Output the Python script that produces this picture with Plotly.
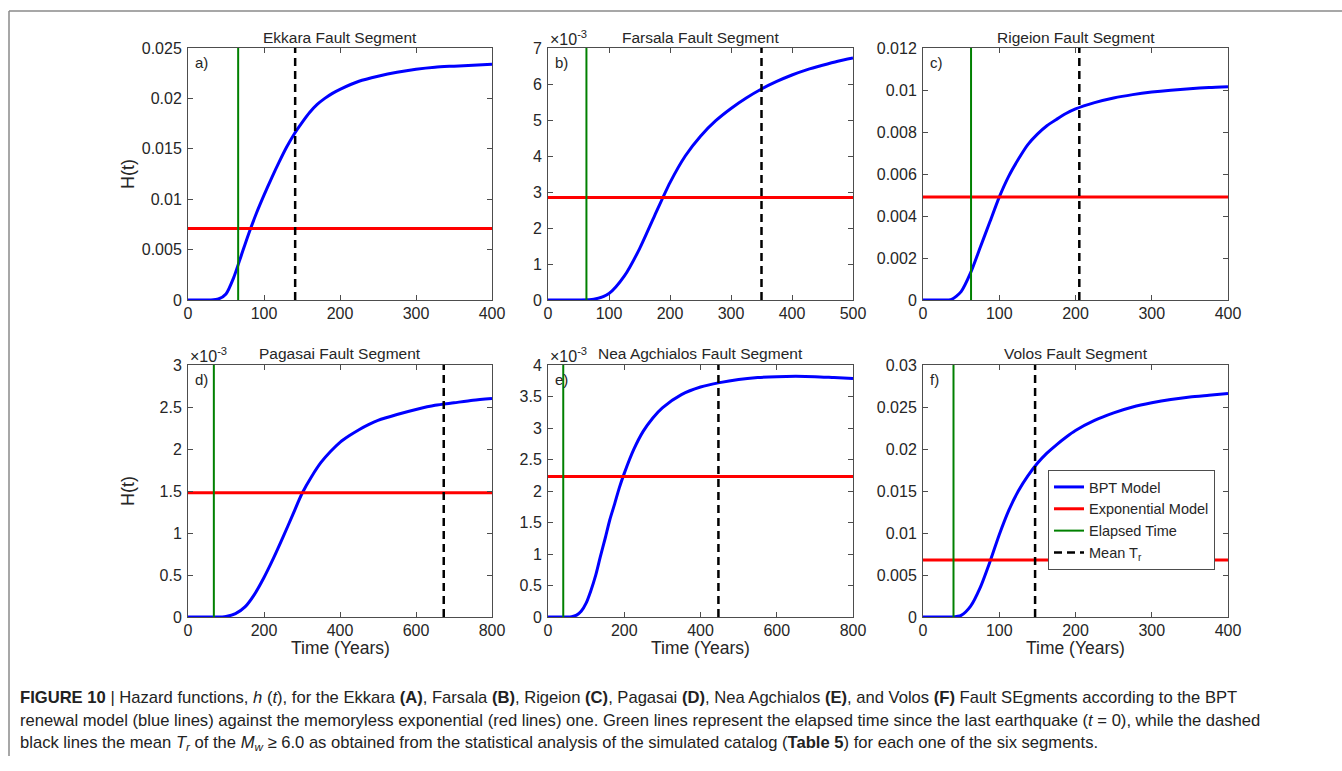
import plotly.graph_objects as go

W, H = 1342, 771

# ---------------- data ----------------
titles = ["Ekkara Fault Segment", "Farsala Fault Segment", "Rigeion Fault Segment",
          "Pagasai Fault Segment", "Nea Agchialos Fault Segment", "Volos Fault Segment"]
letters = ["a)", "b)", "c)", "d)", "e)", "f)"]

t_a = [0, 20, 30, 40, 50, 60, 70, 80, 90, 100, 110, 120, 130, 140, 150, 160, 170, 180, 190, 200, 225, 250, 275, 300, 325, 350, 375, 400]
h_a = [0, 0, 0, 0.0001, 0.0006, 0.0022, 0.0044, 0.0066, 0.0086, 0.0104, 0.0121, 0.0137, 0.0152, 0.0165, 0.0176, 0.0186, 0.0194, 0.0200, 0.0205, 0.0209, 0.0217, 0.0222, 0.0226, 0.0229, 0.0231, 0.0232, 0.0233, 0.0234]

t_b = [0, 25, 50, 75, 100, 125, 150, 175, 200, 225, 250, 275, 300, 325, 350, 375, 400, 425, 450, 475, 500]
h_b = [0, 0, 0, 0.00002, 0.00018, 0.00066, 0.00142, 0.00235, 0.00326, 0.00400, 0.00455, 0.00498, 0.00532, 0.00561, 0.00586, 0.00607, 0.00625, 0.00640, 0.00652, 0.00663, 0.00672]

t_c = [0, 12.5, 25, 37.5, 50, 62.5, 75, 87.5, 100, 112.5, 125, 137.5, 150, 162.5, 175, 187.5, 200, 225, 250, 275, 300, 325, 350, 375, 400]
h_c = [0, 0, 0, 0.00003, 0.0004, 0.0013, 0.0025, 0.0037, 0.0049, 0.0059, 0.0067, 0.0074, 0.0079, 0.0083, 0.0086, 0.00888, 0.0091, 0.0094, 0.00962, 0.00978, 0.0099, 0.00999, 0.01006, 0.01012, 0.01016]

t_d = [0, 50, 90, 100, 125, 150, 175, 200, 225, 250, 275, 300, 325, 350, 375, 400, 425, 450, 475, 500, 550, 600, 650, 700, 750, 800]
h_d = [0, 0, 0, 0.000005, 0.00004, 0.00012, 0.00027, 0.00047, 0.00070, 0.00095, 0.00121, 0.00147, 0.00167, 0.00184, 0.00197, 0.00208, 0.00216, 0.00223, 0.00229, 0.00234, 0.00241, 0.00247, 0.00252, 0.00255, 0.00258, 0.00260]

t_e = [0, 50, 62, 75, 87, 100, 112, 125, 137, 150, 162, 175, 187, 200, 225, 250, 275, 300, 350, 400, 450, 500, 550, 600, 650, 700, 750, 800]
h_e = [0, 0, 0.000005, 0.00003, 0.00009, 0.00022, 0.00041, 0.00066, 0.00095, 0.00125, 0.00154, 0.00180, 0.00205, 0.00228, 0.00266, 0.00295, 0.00316, 0.00332, 0.00353, 0.00365, 0.00372, 0.00377, 0.00380, 0.003815, 0.00382, 0.003815, 0.00380, 0.003785]

t_f = [0, 12.5, 25, 37.5, 50, 62.5, 75, 87.5, 100, 112.5, 125, 137.5, 150, 162.5, 175, 187.5, 200, 225, 250, 275, 300, 325, 350, 375, 400]
h_f = [0, 0, 0, 0, 0.0002, 0.0013, 0.0035, 0.0065, 0.0098, 0.0127, 0.0150, 0.0168, 0.0183, 0.0195, 0.0205, 0.0214, 0.0222, 0.0234, 0.0243, 0.0250, 0.0255, 0.0259, 0.0262, 0.0264, 0.0266]

times = [t_a, t_b, t_c, t_d, t_e, t_f]
hazards = [h_a, h_b, h_c, h_d, h_e, h_f]

exp_rate = [0.0071, 0.00285, 0.0049, 0.00148, 0.00223, 0.0068]   # exponential model
elapsed = [66, 63, 63, 68, 40, 40]                               # elapsed time
mean_tr = [141, 350, 205, 673, 447, 147]                         # mean recurrence

x_max = [400, 500, 400, 800, 800, 400]
x_step = [100, 100, 100, 200, 200, 100]
y_max = [0.025, 0.007, 0.012, 0.003, 0.004, 0.03]
y_ticks = [
    [0, 0.005, 0.01, 0.015, 0.02, 0.025],
    [0, 0.001, 0.002, 0.003, 0.004, 0.005, 0.006, 0.007],
    [0, 0.002, 0.004, 0.006, 0.008, 0.01, 0.012],
    [0, 0.0005, 0.001, 0.0015, 0.002, 0.0025, 0.003],
    [0, 0.0005, 0.001, 0.0015, 0.002, 0.0025, 0.003, 0.0035, 0.004],
    [0, 0.005, 0.01, 0.015, 0.02, 0.025, 0.03],
]
y_ticktext = [
    ["0", "0.005", "0.01", "0.015", "0.02", "0.025"],
    ["0", "1", "2", "3", "4", "5", "6", "7"],
    ["0", "0.002", "0.004", "0.006", "0.008", "0.01", "0.012"],
    ["0", "0.5", "1", "1.5", "2", "2.5", "3"],
    ["0", "0.5", "1", "1.5", "2", "2.5", "3", "3.5", "4"],
    ["0", "0.005", "0.01", "0.015", "0.02", "0.025", "0.03"],
]
has_exponent = [False, True, False, True, True, False]

# ---------------- layout geometry (pixels) ----------------
col_px = [(188, 492), (548, 853), (923, 1228)]
row_px = [(48, 300), (365, 617)]

def px_x(p):
    return p / W

def px_y(p):
    return 1 - p / H

FONT = "Liberation Sans, Arial, Helvetica, sans-serif"
AXC = "#4d4d4d"
TXC = "#262626"

fig = go.Figure()
annotations = []
layout_axes = {}

for i in range(6):
    r, c = divmod(i, 3)
    k = "" if i == 0 else str(i + 1)
    xa, ya = "x" + k, "y" + k
    x0, x1 = col_px[c]
    y0, y1 = row_px[r]
    legend_on = (i == 5)

    fig.add_trace(go.Scatter(x=times[i], y=hazards[i], mode="lines", name="BPT Model",
                             line=dict(color="#0000ff", width=3, shape="spline", smoothing=0.7),
                             xaxis=xa, yaxis=ya, showlegend=legend_on))
    fig.add_trace(go.Scatter(x=[0, x_max[i]], y=[exp_rate[i], exp_rate[i]], mode="lines",
                             name="Exponential Model", line=dict(color="#ff0000", width=3),
                             xaxis=xa, yaxis=ya, showlegend=legend_on))
    fig.add_trace(go.Scatter(x=[elapsed[i], elapsed[i]], y=[0, y_max[i]], mode="lines",
                             name="Elapsed Time", line=dict(color="#008000", width=2),
                             xaxis=xa, yaxis=ya, showlegend=legend_on))
    fig.add_trace(go.Scatter(x=[mean_tr[i], mean_tr[i]], y=[0, y_max[i]], mode="lines",
                             name="Mean T<sub>r</sub>", line=dict(color="#000000", width=2.5, dash="8px,5px"),
                             xaxis=xa, yaxis=ya, showlegend=legend_on))

    common = dict(showline=True, linecolor=AXC, linewidth=1, mirror="ticks", ticks="inside",
                  ticklen=5, tickcolor=AXC, showgrid=False, zeroline=False, automargin=False,
                  tickfont=dict(family=FONT, size=16, color=TXC))
    layout_axes["xaxis" + k] = dict(common, domain=[px_x(x0), px_x(x1)], anchor=ya,
                                    range=[0, x_max[i]], ticklabelstandoff=-1,
                                    tickvals=list(range(0, x_max[i] + 1, x_step[i])))
    layout_axes["yaxis" + k] = dict(common, domain=[px_y(y1), px_y(y0)], anchor=xa,
                                    range=[0, y_max[i]], tickvals=y_ticks[i],
                                    ticktext=y_ticktext[i], ticklabelstandoff=2)

    # subplot title
    annotations.append(dict(x=px_x((x0 + x1) / 2), y=px_y(y0 - 11), xref="paper", yref="paper",
                            text=titles[i], showarrow=False, xanchor="center", yanchor="middle",
                            font=dict(family=FONT, size=15.5, color=TXC)))
    # panel letter
    annotations.append(dict(x=px_x(x0 + 5), y=px_y(y0 + 14), xref="paper", yref="paper",
                            text=letters[i], showarrow=False, xanchor="left", yanchor="middle",
                            font=dict(family=FONT, size=15, color=TXC)))
    if has_exponent[i]:
        annotations.append(dict(x=px_x(x0), y=px_y(y0 - 10), xref="paper", yref="paper",
                                text="×10<sup>-3</sup>", showarrow=False, xanchor="left",
                                yanchor="middle", font=dict(family=FONT, size=16, color=TXC)))
    if c == 0:
        annotations.append(dict(x=px_x(128), y=px_y((y0 + y1) / 2), xref="paper", yref="paper",
                                text="H(t)", showarrow=False, textangle=-90, xanchor="center",
                                yanchor="middle", font=dict(family=FONT, size=18, color=TXC)))
    if r == 1:
        annotations.append(dict(x=px_x((x0 + x1) / 2), y=px_y(648), xref="paper", yref="paper",
                                text="Time (Years)", showarrow=False, xanchor="center",
                                yanchor="middle", font=dict(family=FONT, size=17.5, color=TXC)))

# ---------------- caption ----------------
CAPF = "Liberation Sans, Arial, sans-serif"
caption_lines = [
    "<b>FIGURE 10</b> | Hazard functions, <i>h</i> (<i>t</i>), for the Ekkara <b>(A)</b>, Farsala <b>(B)</b>, "
    "Rigeion <b>(C)</b>, Pagasai <b>(D)</b>, Nea Agchialos <b>(E)</b>, and Volos <b>(F)</b> Fault SEgments according to the BPT",
    "renewal model (blue lines) against the memoryless exponential (red lines) one. Green lines represent the "
    "elapsed time since the last earthquake (<i>t</i> = 0), while the dashed",
    "black lines the mean <i>T<sub>r</sub></i> of the <i>M<sub>w</sub></i> ≥ 6.0 as obtained from the statistical "
    "analysis of the simulated catalog (<b>Table 5</b>) for each one of the six segments.",
]
caption_y = [697, 720, 743]
for line, yy in zip(caption_lines, caption_y):
    annotations.append(dict(x=px_x(18), y=px_y(yy), xref="paper", yref="paper", text=line,
                            showarrow=False, xanchor="left", yanchor="middle",
                            font=dict(family=CAPF, size=16.6, color="#222222")))

# frame lines (top and left)
shapes = [
    dict(type="line", xref="paper", yref="paper", x0=px_x(9), x1=1, y0=px_y(11), y1=px_y(11),
         line=dict(color="#8a8a8a", width=1.5)),
    dict(type="line", xref="paper", yref="paper", x0=px_x(9), x1=px_x(9), y0=px_y(11), y1=px_y(756),
         line=dict(color="#8a8a8a", width=1.5)),
]

fig.update_layout(
    autosize=True, margin=dict(l=0, r=0, t=0, b=0, pad=0),
    paper_bgcolor="white", plot_bgcolor="white",
    font=dict(family=FONT, color=TXC),
    annotations=annotations, shapes=shapes,
    showlegend=True,
    legend=dict(x=px_x(1048), y=px_y(470), xanchor="left", yanchor="top",
                bgcolor="white", bordercolor=AXC, borderwidth=1,
                font=dict(family=FONT, size=14.5, color=TXC),
                tracegroupgap=0, itemwidth=30),
    **layout_axes,
)

fig.write_html(
    "out.html",
    config={"displayModeBar": False},
    default_width=f"{W}px; position:absolute; left:0; top:0",
    default_height=f"{H}px",
    post_script="document.body.style.margin='0';document.body.style.overflow='hidden';",
)
